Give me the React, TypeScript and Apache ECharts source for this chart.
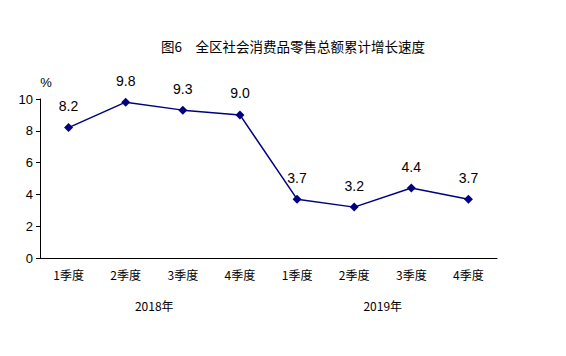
import React, { useEffect, useRef } from "react";
import * as echarts from "echarts";

const categories = ["1季度", "2季度", "3季度", "4季度", "1季度", "2季度", "3季度", "4季度"];
const values = [8.2, 9.8, 9.3, 9.0, 3.7, 3.2, 4.4, 3.7];
const years = ["2018年", "2019年"];
const titleText = "图6　全区社会消费品零售总额累计增长速度";

export default function App() {
  const ref = useRef<HTMLDivElement>(null);
  useEffect(() => {
    const chart = echarts.init(ref.current!, null, { renderer: "svg" });
    chart.setOption({
      animation: false,
      backgroundColor: "#ffffff",
      title: {
        text: titleText,
        left: 288,
        top: 34,
        textAlign: "center",
        textStyle: { fontFamily: "Noto Sans CJK SC", fontSize: 13.5, fontWeight: "normal", color: "#000" },
      },
      grid: { left: 40, right: 69, top: 99, bottom: 98 },
      xAxis: [
        {
          type: "category",
          data: categories,
          axisLine: { lineStyle: { color: "#000", width: 1 } },
          axisTick: { inside: true, length: 5, lineStyle: { color: "#000" } },
          axisLabel: { color: "#000", fontFamily: "Noto Sans CJK SC", fontSize: 12, margin: 10 },
        },
        {
          type: "category",
          position: "bottom",
          data: years,
          offset: 31,
          axisLine: { show: false },
          axisTick: { show: false },
          axisLabel: { color: "#000", fontFamily: "Noto Sans CJK SC", fontSize: 12, margin: 10 },
        },
      ],
      yAxis: {
        type: "value",
        min: 0,
        max: 10,
        interval: 2,
        name: "%",
        nameGap: 10,
        nameTextStyle: { color: "#000", fontFamily: "Liberation Sans", fontSize: 13, padding: [0, 0, 0, 12] },
        splitLine: { show: false },
        axisLine: { show: true, lineStyle: { color: "#000", width: 1 } },
        axisTick: { show: true, length: 4, lineStyle: { color: "#000" } },
        axisLabel: { color: "#000", fontFamily: "Liberation Sans", fontSize: 13, margin: 7 },
      },
      series: [
        {
          type: "line",
          data: values,
          xAxisIndex: 0,
          symbol: "diamond",
          symbolSize: 9,
          lineStyle: { color: "#000080", width: 1.5 },
          itemStyle: { color: "#000080" },
          label: {
            show: true,
            position: "top",
            distance: 10,
            color: "#000",
            fontFamily: "Liberation Sans",
            fontSize: 14,
            formatter: (p: any) => p.value.toFixed(1),
          },
        },
      ],
    });
    return () => chart.dispose();
  }, []);
  return <div ref={ref} style={{ width: 566, height: 356, position: "absolute", left: 0, top: 0 }} />;
}
